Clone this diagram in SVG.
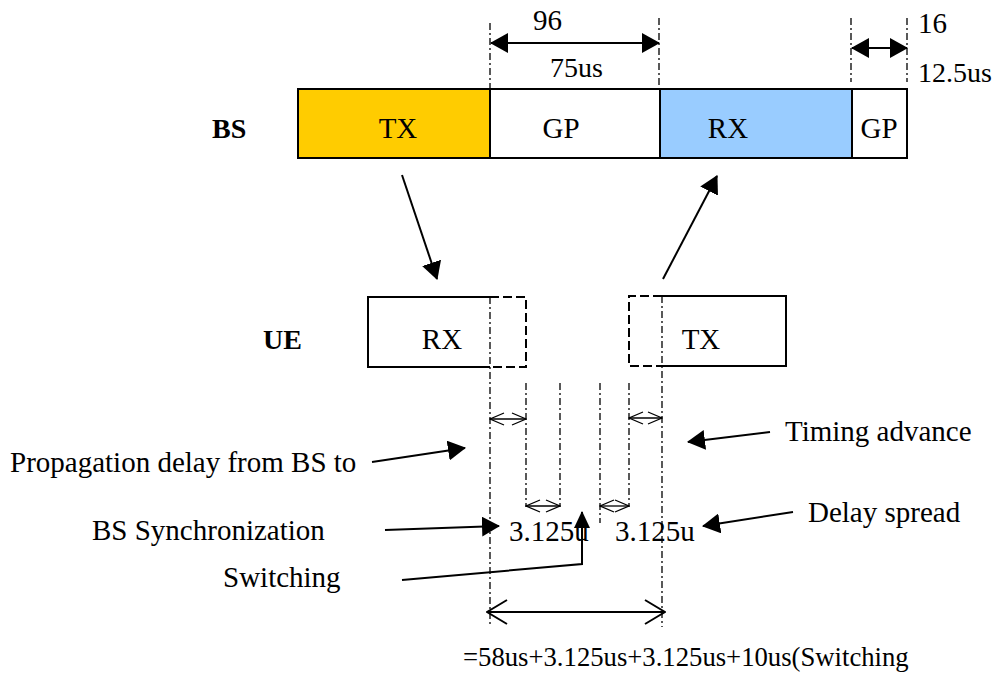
<svg xmlns="http://www.w3.org/2000/svg" width="995" height="673" viewBox="0 0 995 673">
<style>
text{font-family:"Liberation Serif","Times New Roman",serif;font-size:29px;fill:#000}
.b{font-weight:bold;font-size:28px}
.m{text-anchor:middle}
.s{font-size:28px}
.f{font-size:26.7px}
.box{stroke:#000;stroke-width:2}
.dd{fill:none;stroke:#000;stroke-width:1.3;stroke-dasharray:7 3 2 3}
.dash{fill:none;stroke:#000;stroke-width:2;stroke-dasharray:9 4}
.ln{fill:none;stroke:#000;stroke-width:2}
.thin{fill:none;stroke:#000;stroke-width:1.3}
</style>
<defs>
<marker id="tri" markerUnits="userSpaceOnUse" viewBox="0 0 18 20" refX="17" refY="10" markerWidth="18" markerHeight="20" orient="auto-start-reverse"><path d="M0,0 L18,10 L0,20 z" fill="#000"/></marker>
<marker id="triS" markerUnits="userSpaceOnUse" viewBox="0 0 17 16" refX="16" refY="8" markerWidth="17" markerHeight="16" orient="auto"><path d="M0,0 L17,8 L0,16 z" fill="#000"/></marker>
<marker id="open" markerUnits="userSpaceOnUse" viewBox="0 0 16 14" refX="15" refY="7" markerWidth="16" markerHeight="14" orient="auto-start-reverse"><path d="M1,1 L15,7 L1,13" fill="none" stroke="#000" stroke-width="1.3"/></marker>
<marker id="openL" markerUnits="userSpaceOnUse" viewBox="0 0 22 28" refX="21" refY="14" markerWidth="22" markerHeight="28" orient="auto-start-reverse"><path d="M1,2 L21,14 L1,26" fill="none" stroke="#000" stroke-width="2"/></marker>
</defs>
<rect width="995" height="673" fill="#fff"/>

<g id="guides">
<path class="dd" d="M490,23 V89 M659,18 V89 M851,18 V82 M907,18 V82"/>
<path class="dd" d="M490,297 V627 M662,296 V627 M526,383 V507 M560,383 V507 M600,383 V523 M629,383 V507"/>
</g>

<g id="bs">
<text class="b" x="212" y="138">BS</text>
<rect class="box" x="298" y="89" width="192" height="69" fill="#FFCC00"/>
<rect class="box" x="490" y="89" width="170" height="69" fill="#fff"/>
<rect class="box" x="660" y="89" width="192" height="69" fill="#99CCFF"/>
<rect class="box" x="852" y="89" width="55" height="69" fill="#fff"/>
<text class="m" x="398" y="138">TX</text>
<text class="m" x="561" y="138">GP</text>
<text class="m" x="728" y="138">RX</text>
<text class="m" x="879" y="138">GP</text>
</g>

<g id="ue">
<text class="b" x="263" y="349">UE</text>
<path class="ln" d="M490,297 H368 V367 H490"/>
<path class="dash" d="M490,297 H526 V367 H490"/>
<path class="dash" d="M662,296 H629 V366 H662"/>
<path class="ln" d="M662,296 H786 V366 H662"/>
<text class="m" x="442" y="349">RX</text>
<text class="m" x="701" y="349">TX</text>
</g>

<g id="connectors">
<line class="ln" x1="491" y1="43" x2="659" y2="43" marker-start="url(#tri)" marker-end="url(#tri)"/>
<line class="ln" x1="852" y1="48" x2="907" y2="48" marker-start="url(#tri)" marker-end="url(#tri)"/>
<line class="ln" x1="402" y1="175" x2="437" y2="279" marker-end="url(#tri)"/>
<line class="ln" x1="663" y1="279" x2="717" y2="176" marker-end="url(#tri)"/>
<line class="thin" x1="490" y1="419" x2="526" y2="419" marker-start="url(#open)" marker-end="url(#open)"/>
<line class="thin" x1="629" y1="418" x2="662" y2="418" marker-start="url(#open)" marker-end="url(#open)"/>
<line class="thin" x1="526" y1="506" x2="560" y2="506" marker-start="url(#open)" marker-end="url(#open)"/>
<line class="thin" x1="600" y1="506" x2="629" y2="506" marker-start="url(#open)" marker-end="url(#open)"/>
<line class="ln" x1="487" y1="612" x2="665" y2="612" marker-start="url(#openL)" marker-end="url(#openL)"/>
<line class="ln" x1="372" y1="462" x2="465" y2="448" marker-end="url(#tri)"/>
<line class="ln" x1="770" y1="432" x2="688" y2="442" marker-end="url(#tri)"/>
<line class="ln" x1="385" y1="530" x2="499" y2="526" marker-end="url(#tri)"/>
<line class="ln" x1="793" y1="512" x2="703" y2="526" marker-end="url(#tri)"/>
<path class="ln" d="M402,580 L582,564 V512" marker-end="url(#triS)"/>
</g>

<g id="labels">
<text x="533" y="30">96</text>
<text class="s" x="550" y="77">75us</text>
<text x="918" y="33">16</text>
<text class="s" x="918" y="82">12.5us</text>
<text x="10" y="472">Propagation delay from BS to</text>
<text x="785" y="441">Timing advance</text>
<text x="92" y="540">BS Synchronization</text>
<text x="808" y="522">Delay spread</text>
<text x="509" y="541">3.125u</text>
<text x="615" y="541">3.125u</text>
<text x="223" y="587">Switching</text>
<text class="f" x="463" y="666">=58us+3.125us+3.125us+10us(Switching</text>
</g>
</svg>
